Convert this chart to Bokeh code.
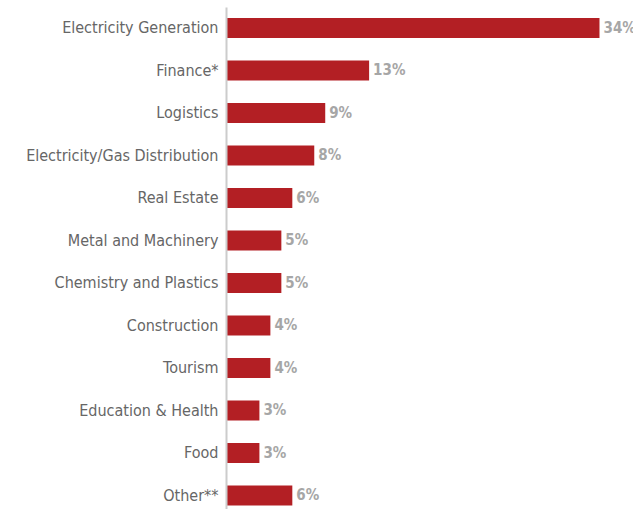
from bokeh.plotting import figure
from bokeh.models import Range1d, ColumnDataSource, FixedTicker
from bokeh.core.properties import value
from bokeh.embed import file_html
from bokeh.resources import INLINE

categories = ["Electricity Generation", "Finance*", "Logistics",
              "Electricity/Gas Distribution", "Real Estate", "Metal and Machinery",
              "Chemistry and Plastics", "Construction", "Tourism",
              "Education & Health", "Food", "Other**"]
shares = [34, 13, 9, 8, 6, 5, 5, 4, 4, 3, 3, 6]
value_labels = ["34%", "13%", "9%", "8%", "6%", "5%", "5%", "4%", "4%", "3%", "3%", "6%"]

FONT = "'DejaVu Sans Condensed', Roboto, sans-serif"

n = len(categories)
ypos = [n - 1 - i for i in range(n)]

src = ColumnDataSource(dict(y=ypos, v=shares, lab=value_labels))

p = figure(width=633, height=509, output_backend="svg", toolbar_location=None,
           x_range=Range1d(0, 37.1), y_range=Range1d(-0.330, 11.482),
           min_border_left=226, min_border_right=0, min_border_top=7, min_border_bottom=0)

p.hbar(y="y", right="v", left=0, height=0.47, source=src,
       fill_color="#b31f24", line_color=None)

p.text(x="v", y="y", text="lab", source=src, x_offset=4,
       text_baseline="middle", text_align="left",
       text_font=value(FONT), text_font_size="15px",
       text_font_style="bold", text_color="#a6a6a6")

p.xaxis.visible = False
p.xgrid.visible = False
p.ygrid.visible = False
p.outline_line_color = None

ax = p.yaxis[0]
ax.ticker = FixedTicker(ticks=ypos)
ax.major_label_overrides = {y: c for y, c in zip(ypos, categories)}
ax.major_tick_line_color = None
ax.minor_tick_line_color = None
ax.axis_line_color = "#cccccc"
ax.axis_line_width = 2
ax.major_label_standoff = 2
ax.major_label_text_font = FONT
ax.major_label_text_font_size = "16px"
ax.major_label_text_color = "#666666"

open("out.html", "w").write(file_html(p, INLINE))
